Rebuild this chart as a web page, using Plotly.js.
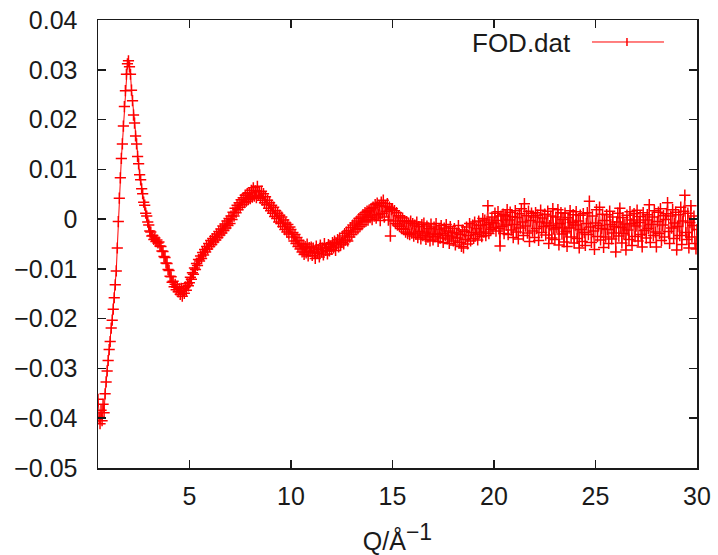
<!DOCTYPE html>
<html>
<head>
<meta charset="utf-8">
<script src="https://cdn.plot.ly/plotly-3.0.1.min.js"></script>
<style>html,body{margin:0;padding:0;background:#fff;}#chart{width:718px;height:555px;}</style>
</head>
<body>
<div id="chart"></div>
<script>
// Q grid of the FOD.dat file (Å^-1): first value and spacing
const qStart = 0.5;
const qStep = 0.05;
// FOD values, one per Q grid point (rows of 10 = 0.5 Å^-1)
const fod = [
-0.0362,-0.0398,-0.0411,-0.0384,-0.0405,-0.0372,-0.0389,-0.0351,-0.0327,-0.0305,
-0.0284,-0.0262,-0.0246,-0.0219,-0.0203,-0.0181,-0.0158,-0.0132,-0.0104,-0.0058,
-0.0005,0.0042,0.0083,0.0122,0.0151,0.0187,0.0226,0.0258,0.0291,0.0312,
0.0318,0.0306,0.0291,0.0259,0.0238,0.0209,0.0193,0.0167,0.0151,0.0126,
0.0111,0.0089,0.0079,0.0061,0.0051,0.0034,0.0028,0.0012,0.0006,-0.0006,
-0.0012,-0.0024,-0.0026,-0.0034,-0.0033,-0.0041,-0.0038,-0.0045,-0.0042,-0.0048,
-0.0046,-0.0054,-0.0055,-0.0064,-0.0065,-0.0075,-0.0077,-0.0088,-0.0089,-0.0101,
-0.0103,-0.0115,-0.0116,-0.0127,-0.0125,-0.0136,-0.0131,-0.0142,-0.0137,-0.0146,
-0.0140,-0.0151,-0.0139,-0.0155,-0.0143,-0.0149,-0.0136,-0.0143,-0.0130,-0.0134,
-0.0128,-0.0117,-0.0121,-0.0108,-0.0111,-0.0098,-0.0101,-0.0089,-0.0093,-0.0081,
-0.0084,-0.0074,-0.0079,-0.0067,-0.0072,-0.0061,-0.0066,-0.0055,-0.0060,-0.0049,
-0.0055,-0.0043,-0.0051,-0.0039,-0.0046,-0.0035,-0.0042,-0.0030,-0.0037,-0.0025,
-0.0032,-0.0020,-0.0028,-0.0014,-0.0023,-0.0010,-0.0018,-0.0004,-0.0013,0.0001,
-0.0009,0.0006,-0.0001,0.0014,0.0006,0.0022,0.0013,0.0028,0.0019,0.0033,
0.0024,0.0039,0.0029,0.0043,0.0033,0.0048,0.0036,0.0051,0.0039,0.0053,
0.0041,0.0058,0.0044,0.0063,0.0046,0.0057,0.0043,0.0066,0.0048,0.0055,
0.0042,0.0056,0.0038,0.0051,0.0033,0.0045,0.0029,0.0038,0.0022,0.0033,
0.0017,0.0028,0.0012,0.0024,0.0005,0.0017,0.0001,0.0012,-0.0006,0.0008,
-0.0009,0.0004,-0.0015,-0.0002,-0.0021,-0.0008,-0.0026,-0.0011,-0.0030,-0.0016,
-0.0021,-0.0036,-0.0027,-0.0044,-0.0031,-0.0049,-0.0037,-0.0055,-0.0043,-0.0060,
-0.0049,-0.0066,-0.0052,-0.0071,-0.0055,-0.0068,-0.0050,-0.0074,-0.0057,-0.0065,
-0.0056,-0.0073,-0.0058,-0.0067,-0.0079,-0.0054,-0.0069,-0.0061,-0.0076,-0.0052,
-0.0066,-0.0058,-0.0072,-0.0049,-0.0063,-0.0057,-0.0070,-0.0051,-0.0064,-0.0055,
-0.0061,-0.0047,-0.0058,-0.0044,-0.0063,-0.0049,-0.0041,-0.0056,-0.0038,-0.0052,
-0.0047,-0.0034,-0.0050,-0.0029,-0.0042,-0.0026,-0.0044,-0.0023,-0.0036,-0.0017,
-0.0031,-0.0012,-0.0026,-0.0008,-0.0021,-0.0004,-0.0019,0.0001,-0.0015,0.0004,
-0.0011,0.0009,-0.0006,0.0013,-0.0004,0.0016,-0.0002,0.0018,0.0003,0.0021,
-0.0001,0.0024,0.0006,0.0029,0.0002,0.0032,0.0009,0.0027,-0.0003,0.0034,
0.0012,0.0038,0.0004,0.0026,0.0016,0.0031,-0.0002,0.0024,-0.0034,0.0019,
0.0021,-0.0004,0.0017,-0.0009,0.0013,-0.0012,0.0007,-0.0015,0.0004,-0.0019,
0.0002,-0.0021,-0.0003,-0.0026,-0.0005,-0.0029,-0.0008,-0.0031,-0.0004,-0.0028,
-0.0009,-0.0034,-0.0012,-0.0030,-0.0006,-0.0037,-0.0015,-0.0025,-0.0040,-0.0011,
-0.0033,-0.0008,-0.0028,-0.0041,-0.0014,-0.0036,-0.0019,-0.0044,-0.0010,-0.0030,
-0.0042,-0.0016,-0.0035,-0.0009,-0.0031,-0.0045,-0.0020,-0.0038,-0.0013,-0.0029,
-0.0047,-0.0018,-0.0033,-0.0011,-0.0040,-0.0024,-0.0049,-0.0015,-0.0036,-0.0027,
-0.0044,-0.0019,-0.0052,-0.0028,-0.0038,-0.0013,-0.0047,-0.0031,-0.0055,-0.0022,
-0.0058,-0.0025,-0.0041,-0.0016,-0.0050,-0.0033,-0.0009,-0.0044,-0.0027,-0.0012,
-0.0039,-0.0006,-0.0031,-0.0019,-0.0042,-0.0004,-0.0028,-0.0013,-0.0035,0.0001,
-0.0026,-0.0002,-0.0033,-0.0011,0.0027,-0.0029,-0.0007,-0.0021,0.0004,-0.0017,
-0.0008,0.0012,-0.0024,-0.0003,0.0015,-0.0019,-0.0054,0.0006,-0.0015,0.0010,
-0.0029,0.0008,-0.0012,0.0019,-0.0031,-0.0002,0.0014,-0.0022,0.0005,-0.0037,
-0.0011,0.0017,-0.0026,0.0003,-0.0040,0.0011,-0.0018,0.0021,-0.0006,-0.0033,
0.0031,-0.0014,0.0007,-0.0028,0.0016,-0.0045,-0.0003,0.0012,-0.0024,0.0004,
-0.0037,0.0013,-0.0019,0.0008,-0.0043,-0.0006,0.0018,-0.0027,0.0002,-0.0015,
0.0010,-0.0032,-0.0008,0.0016,-0.0049,-0.0013,0.0006,-0.0038,0.0021,-0.0020,
-0.0041,0.0004,-0.0017,0.0019,-0.0052,-0.0009,0.0013,-0.0030,-0.0001,-0.0046,
0.0012,-0.0025,-0.0055,0.0003,-0.0018,0.0017,-0.0036,-0.0007,0.0009,-0.0048,
-0.0012,0.0015,-0.0039,-0.0004,-0.0058,0.0008,-0.0021,-0.0045,0.0011,-0.0027,
-0.0053,-0.0009,0.0013,-0.0031,0.0036,-0.0016,-0.0047,0.0006,-0.0024,-0.0061,
-0.0008,0.0019,-0.0035,-0.0013,0.0024,-0.0042,-0.0019,0.0010,-0.0057,-0.0003,
-0.0036,0.0009,-0.0021,-0.0049,0.0016,-0.0011,-0.0040,0.0004,-0.0028,-0.0015,
-0.0066,-0.0006,0.0012,-0.0034,0.0022,-0.0017,-0.0048,0.0003,-0.0029,-0.0010,
-0.0062,0.0008,-0.0022,-0.0041,0.0015,-0.0009,-0.0053,-0.0002,0.0011,-0.0035,
-0.0014,0.0018,-0.0044,-0.0007,0.0005,-0.0031,-0.0056,0.0013,-0.0023,-0.0002,
-0.0038,0.0009,-0.0019,0.0029,-0.0047,-0.0011,0.0004,-0.0033,0.0017,-0.0026,
-0.0056,-0.0005,0.0014,-0.0029,0.0021,-0.0043,-0.0012,0.0007,-0.0036,-0.0001,
0.0011,0.0033,-0.0025,-0.0049,0.0006,-0.0018,0.0019,-0.0039,-0.0008,0.0014,
-0.0062,-0.0015,0.0009,-0.0033,0.0024,-0.0051,-0.0004,0.0016,0.0048,-0.0027,
-0.0041,0.0012,-0.0058,-0.0007,0.0027,-0.0036,-0.0013,0.0006,-0.0049,-0.0060,
-0.0021
];
const q = fod.map((_, i) => +(qStart + i * qStep).toFixed(2));

const seriesName = "FOD.dat";
const xTickVals = [5, 10, 15, 20, 25, 30];
const yTickVals = [-0.05, -0.04, -0.03, -0.02, -0.01, 0, 0.01, 0.02, 0.03, 0.04];
const xRange = [0.5, 30];
const yRange = [-0.05, 0.04];

const red = "#ff0000";
const ink = "#1a1a1a";
const fontFamily = "'Liberation Sans', Arial, Helvetica, sans-serif";

const trace = {
  x: q, y: fod, type: "scatter", mode: "lines+markers", name: seriesName,
  line: {color: red, width: 1},
  marker: {symbol: "cross-thin-open", size: 8, color: red, line: {width: 1.5}},
  showlegend: false, hoverinfo: "skip"
};

const axisCommon = {
  showgrid: false, zeroline: false, showline: true, linecolor: ink, linewidth: 1.5,
  mirror: "ticks", ticks: "inside", ticklen: 8, tickwidth: 1.5, tickcolor: ink,
  tickfont: {family: fontFamily, size: 25, color: ink}
};

const layout = {
  width: 718, height: 555,
  margin: {l: 98, r: 21, t: 20, b: 87},
  paper_bgcolor: "#fff", plot_bgcolor: "#fff",
  font: {family: fontFamily, color: ink},
  xaxis: Object.assign({}, axisCommon, {
    range: xRange, tickmode: "array", tickvals: xTickVals, ticklabelstandoff: 5,
    title: {text: "Q/Å<sup><span style=\"font-size:23px\">−1</span></sup>", font: {family: fontFamily, size: 25, color: ink}, standoff: 24}
  }),
  yaxis: Object.assign({}, axisCommon, {
    range: yRange, tickmode: "array", tickvals: yTickVals, ticklabelstandoff: 14
  }),
  annotations: [{
    xref: "paper", yref: "paper", x: 0.793, y: 0.949, xanchor: "right", yanchor: "middle",
    text: seriesName, showarrow: false, font: {family: fontFamily, size: 26, color: ink}
  }],
  shapes: [
    {type: "line", xref: "paper", yref: "paper", x0: 0.8247, x1: 0.9449, y0: 0.9509, y1: 0.9509, line: {color: red, width: 1}},
    {type: "line", xref: "paper", yref: "paper", x0: 0.8831, x1: 0.8831, y0: 0.9420, y1: 0.9598, line: {color: red, width: 1.5}}
  ]
};

Plotly.newPlot("chart", [trace], layout, {displayModeBar: false, staticPlot: true});
</script>
</body>
</html>
